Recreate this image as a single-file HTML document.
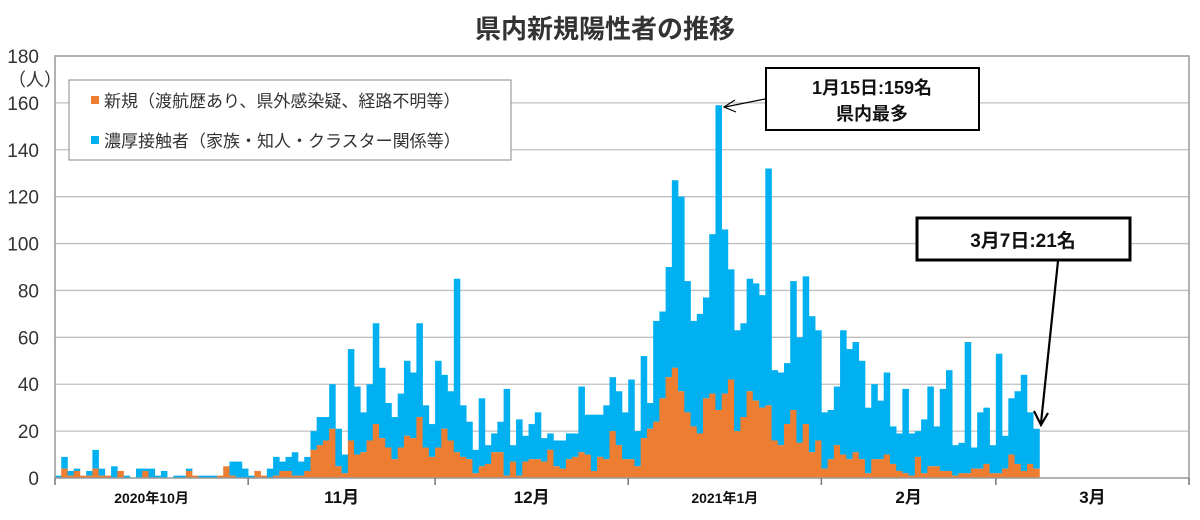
<!DOCTYPE html>
<html><head><meta charset="utf-8"><style>
html,body{margin:0;padding:0;background:#fff;}
svg{display:block;font-family:"Liberation Sans","Noto Sans CJK JP",sans-serif;}
</style></head><body>
<svg id="chart" width="1200" height="520" viewBox="0 0 1200 520">
<text x="605" y="38" text-anchor="middle" font-size="26" font-weight="bold" fill="#333">県内新規陽性者の推移</text>
<g id="grid"></g>
<g id="bars"></g>
<g id="axes"></g>
<g>
<rect x="69" y="80" width="442" height="80" fill="#fff" stroke="#888" stroke-width="1"/>
<rect x="91" y="96" width="8" height="8" fill="#ED7D31"/>
<text x="104" y="107" font-size="17" fill="#333">新規（渡航歴あり、県外感染疑、経路不明等）</text>
<rect x="91" y="136" width="8" height="8" fill="#00B0F0"/>
<text x="104" y="147" font-size="17" fill="#333">濃厚接触者（家族・知人・クラスター関係等）</text>
</g>
<g>
<rect x="766" y="68" width="213" height="62" fill="#fff" stroke="#000" stroke-width="2"/>
<text x="872" y="94" text-anchor="middle" font-size="18" font-weight="bold" fill="#111">1月15日:159名</text>
<text x="872" y="120" text-anchor="middle" font-size="18" font-weight="bold" fill="#111">県内最多</text>
<line x1="765" y1="99" x2="725" y2="107" stroke="#000" stroke-width="1.2"/>
<polyline points="735,100 724,107 736,112" fill="none" stroke="#000" stroke-width="1.2"/>
</g>
<g>
<rect x="917" y="218" width="213" height="42" fill="#fff" stroke="#000" stroke-width="3"/>
<text x="1023" y="247" text-anchor="middle" font-size="19" font-weight="bold" fill="#111">3月7日:21名</text>
<line x1="1058" y1="261" x2="1041" y2="423" stroke="#000" stroke-width="2.2"/>
<polyline points="1034,411 1041,425 1048,413" fill="none" stroke="#000" stroke-width="2.2"/>
</g>
</svg>
<script>
const totalCases = [1,9,3,4,1,3,12,4,1,5,3,1,0,4,4,4,1,3,0,1,1,4,1,1,1,1,1,5,7,7,4,
1,3,1,4,9,7,9,11,7,9,20,26,26,40,21,10,55,39,28,40,66,47,32,26,36,50,45,66,31,23,
50,44,37,85,31,24,12,34,14,19,24,38,14,25,18,23,28,17,19,16,16,19,19,39,27,27,27,31,43,37,28,
42,20,52,32,67,71,90,127,120,84,67,70,77,104,159,106,89,63,66,85,83,78,132,46,45,49,84,60,86,69,63,
28,29,39,63,55,58,50,30,40,33,45,22,19,38,19,20,25,39,22,38,46,14,15,58,13,28,30,14,
53,18,34,37,44,28,21];
const newCases = [0,4,1,3,1,1,4,1,1,0,3,0,0,0,3,0,0,0,0,0,0,3,1,0,0,0,1,5,1,0,0,
0,3,1,0,1,3,3,1,1,3,12,14,16,21,5,2,16,10,11,16,23,17,13,8,13,18,17,26,13,9,
13,21,16,11,9,8,2,5,6,11,11,1,7,1,7,8,8,7,12,5,4,8,9,11,10,3,9,8,20,14,8,
8,5,17,21,24,34,43,47,37,28,22,19,34,36,29,36,42,20,26,37,33,30,31,16,14,23,29,15,23,11,16,
4,8,14,10,8,11,8,2,8,8,10,6,3,2,1,9,2,5,5,3,3,1,2,2,4,4,6,2,
2,4,10,6,3,6,4];
const yTicks = [0,20,40,60,80,100,120,140,160,180];
const monthStarts = [0,31,61,92,123,151,182];
const monthLabels = ["2020年10月","11月","12月","2021年1月","2月","3月"];
const NS="http://www.w3.org/2000/svg";
const X0=55,X1=1189,Y0=478,Y1=56,DAYS=182,YMAX=180;
function xs(d){return X0+(X1-X0)*d/DAYS;}
function ys(v){return Y0-(Y0-Y1)*v/YMAX;}
function mk(tag,attrs,parent){const e=document.createElementNS(NS,tag);for(const k in attrs)e.setAttribute(k,attrs[k]);parent.appendChild(e);return e;}
const grid=document.getElementById('grid'),bars=document.getElementById('bars'),axes=document.getElementById('axes');
yTicks.forEach(v=>{
  if(v>0&&v<YMAX){const l=mk('line',{x1:X0,x2:X1,y1:ys(v),y2:ys(v),stroke:'#c0c0c0','stroke-width':1.3},grid);
  
  }
  const t=mk('text',{x:39,y:ys(v)+7,'text-anchor':'end','font-size':19,fill:'#333'},axes);
  t.textContent=v;
  
  
});
const unit=mk('text',{x:8,y:86,'font-size':18,fill:'#333'},axes);
unit.textContent='（人）';


const bw=(X1-X0)/DAYS;
totalCases.forEach((tot,i)=>{
  const n=newCases[i],c=tot-n;
  const x=xs(i);
  if(c>0){const r=mk('rect',{x:x,y:ys(tot),width:bw+0.3,height:ys(n)-ys(tot),fill:'#00B0F0'},bars);
  
  }
  if(n>0){const r=mk('rect',{x:x,y:ys(n),width:bw+0.3,height:Y0-ys(n),fill:'#ED7D31'},bars);
  
  }
});
const frame=mk('rect',{x:X0,y:Y1,width:X1-X0,height:Y0-Y1,fill:'none',stroke:'#999','stroke-width':1.5},axes);


monthStarts.forEach((d,k)=>{
  const tk=mk('line',{x1:xs(d),x2:xs(d),y1:Y0,y2:Y0+7,stroke:'#777','stroke-width':1.5},axes);
  
  
  if(k<monthLabels.length){
    const mid=(xs(d)+xs(monthStarts[k+1]))/2;
    const big=monthLabels[k].length<=3;
    const t=mk('text',{x:mid,y:503,'text-anchor':'middle','font-size':big?17:14,'font-weight':'bold',fill:'#111'},axes);
    t.textContent=monthLabels[k];
    
    
  }
});
</script>
</body></html>
